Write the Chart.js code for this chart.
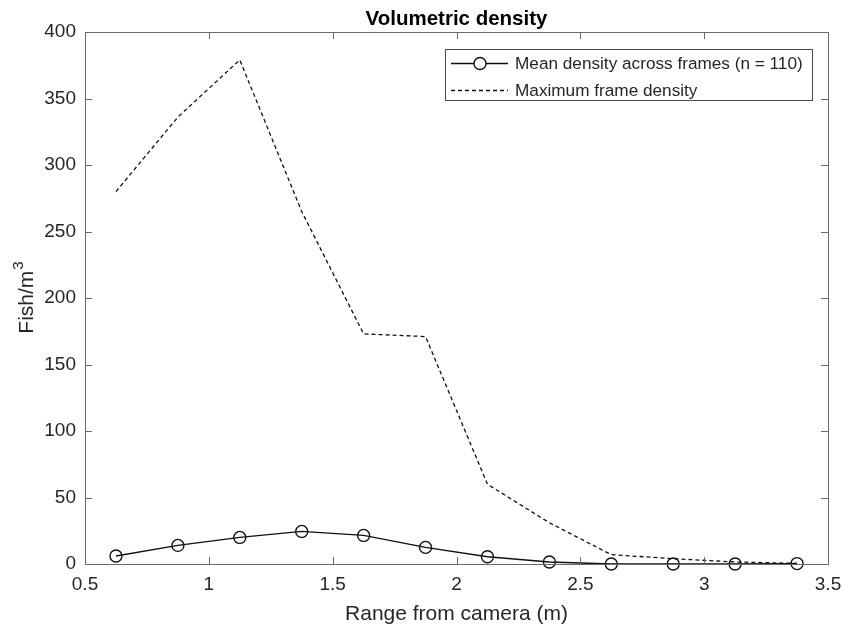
<!DOCTYPE html>
<html>
<head>
<meta charset="utf-8">
<script src="https://cdn.jsdelivr.net/npm/chart.js@4/dist/chart.umd.min.js"></script>
<style>
  html, body { margin: 0; padding: 0; background: #fff; }
  #wrap { width: 843px; height: 628px; }
</style>
</head>
<body>
<div id="wrap"><canvas id="myChart" width="843" height="628"></canvas></div>
<script>
// range bins (m) and densities (fish/m^3)
const ranges = [0.625, 0.875, 1.125, 1.375, 1.625, 1.875, 2.125, 2.375, 2.625, 2.875, 3.125, 3.375];
const meanDensity = [6, 14, 20, 24.5, 21.5, 12.5, 5.5, 1.5, 0, 0, 0, 0.3];
const maxDensity = [280, 336, 379, 265, 173, 171, 60, 31, 7, 4, 1.5, 0.5];
const xTicks = [0.5, 1, 1.5, 2, 2.5, 3, 3.5];
const yTicks = [0, 50, 100, 150, 200, 250, 300, 350, 400];

const FONT = '"Liberation Sans", Arial, Helvetica, sans-serif';
const TEXT = '#262626';
const AXIS = '#6a6a6a';

function toPoints(ys) {
  return ranges.map(function (x, i) { return { x: x, y: ys[i] }; });
}

// MATLAB-ish frame: box, inward ticks, title, axis labels and legend
const framePlugin = {
  id: 'frame',
  afterDatasetsDraw(chart) {
    const ctx = chart.ctx;
    const a = chart.chartArea;
    const xs = chart.scales.x, ys = chart.scales.y;
    const tl = 7;
    ctx.save();
    ctx.strokeStyle = AXIS;
    ctx.lineWidth = 1;
    ctx.strokeRect(Math.round(a.left) + 0.5, Math.round(a.top) + 0.5,
      Math.round(a.right - a.left), Math.round(a.bottom - a.top));
    ctx.beginPath();
    xTicks.forEach(function (v) {
      const px = Math.round(xs.getPixelForValue(v)) + 0.5;
      ctx.moveTo(px, a.bottom); ctx.lineTo(px, a.bottom - tl);
      ctx.moveTo(px, a.top); ctx.lineTo(px, a.top + tl);
    });
    yTicks.forEach(function (v) {
      const py = Math.round(ys.getPixelForValue(v)) + 0.5;
      ctx.moveTo(a.left, py); ctx.lineTo(a.left + tl, py);
      ctx.moveTo(a.right, py); ctx.lineTo(a.right - tl, py);
    });
    ctx.stroke();

    // title
    const cx = (a.left + a.right) / 2;
    ctx.fillStyle = '#000';
    ctx.font = 'bold 20.5px ' + FONT;
    ctx.textAlign = 'center';
    ctx.textBaseline = 'alphabetic';
    ctx.fillText('Volumetric density', cx, 25);

    // x label
    ctx.fillStyle = TEXT;
    ctx.font = '21px ' + FONT;
    ctx.fillText('Range from camera (m)', cx, 620);

    // y label with superscript
    ctx.save();
    ctx.translate(33, (a.top + a.bottom) / 2);
    ctx.rotate(-Math.PI / 2);
    ctx.font = '21px ' + FONT;
    const base = 'Fish/m';
    const wBase = ctx.measureText(base).width;
    ctx.font = '15px ' + FONT;
    const wSup = ctx.measureText('3').width;
    const start = -(wBase + wSup) / 2;
    ctx.textAlign = 'left';
    ctx.font = '21px ' + FONT;
    ctx.fillText(base, start, 0);
    ctx.font = '15px ' + FONT;
    ctx.fillText('3', start + wBase + 1, -10);
    ctx.restore();

    // legend box
    const lx = 445, ly = 49, lw = 367, lh = 51;
    ctx.fillStyle = '#fff';
    ctx.fillRect(lx, ly, lw, lh);
    ctx.strokeStyle = '#4a4a4a';
    ctx.strokeRect(lx + 0.5, ly + 0.5, lw, lh);
    const rows = [63.5, 90.5];
    chart.data.datasets.forEach(function (ds, i) {
      const y = rows[i];
      ctx.strokeStyle = ds.borderColor;
      ctx.lineWidth = ds.borderWidth;
      ctx.setLineDash(ds.borderDash || []);
      ctx.beginPath();
      ctx.moveTo(451, y); ctx.lineTo(508, y);
      ctx.stroke();
      ctx.setLineDash([]);
      if (ds.pointRadius > 0) {
        ctx.fillStyle = '#fff';
        ctx.beginPath();
        ctx.arc(480, y, ds.pointRadius, 0, Math.PI * 2);
        ctx.fill();
        ctx.stroke();
      }
      ctx.fillStyle = TEXT;
      ctx.font = '17.2px ' + FONT;
      ctx.textAlign = 'left';
      ctx.textBaseline = 'middle';
      ctx.fillText(ds.label, 515, y + 1);
    });
    ctx.restore();
  }
};

const ctx = document.getElementById('myChart').getContext('2d');
const chart = new Chart(ctx, {
  type: 'line',
  data: {
    datasets: [{
      label: 'Mean density across frames (n = 110)',
      data: toPoints(meanDensity),
      borderColor: '#111',
      borderWidth: 1.4,
      pointRadius: 6,
      pointBorderWidth: 1.4,
      pointBackgroundColor: 'rgba(0,0,0,0)',
      pointBorderColor: '#111',
      tension: 0,
      clip: false
    }, {
      label: 'Maximum frame density',
      data: toPoints(maxDensity),
      borderColor: '#111',
      borderWidth: 1.3,
      borderDash: [4, 3],
      pointRadius: 0,
      tension: 0,
      clip: false
    }]
  },
  options: {
    responsive: false,
    animation: false,
    layout: { padding: { top: 32, right: 15, left: 0, bottom: 0 } },
    plugins: {
      legend: { display: false },
      title: { display: false },
      tooltip: { enabled: false }
    },
    scales: {
      x: {
        type: 'linear',
        min: 0.5,
        max: 3.5,
        afterFit(scale) {
          scale.height = 64;
          scale.paddingLeft = 0;
          scale.paddingRight = 0;
        },
        afterBuildTicks(scale) { scale.ticks = xTicks.map(function (v) { return { value: v }; }); },
        grid: { display: false, drawTicks: false },
        border: { display: false },
        ticks: {
          padding: 9,
          color: TEXT,
          maxRotation: 0,
          font: { family: FONT, size: 19 },
          callback: function (v) { return String(v); }
        }
      },
      y: {
        type: 'linear',
        min: 0,
        max: 400,
        afterFit(scale) {
          scale.width = 85;
          scale.paddingTop = 0;
          scale.paddingBottom = 0;
        },
        afterBuildTicks(scale) { scale.ticks = yTicks.map(function (v) { return { value: v }; }); },
        grid: { display: false, drawTicks: false },
        border: { display: false },
        ticks: {
          padding: 9,
          color: TEXT,
          font: { family: FONT, size: 19 },
          callback: function (v) { return String(v); }
        }
      }
    }
  },
  plugins: [framePlugin]
});
</script>
</body>
</html>
